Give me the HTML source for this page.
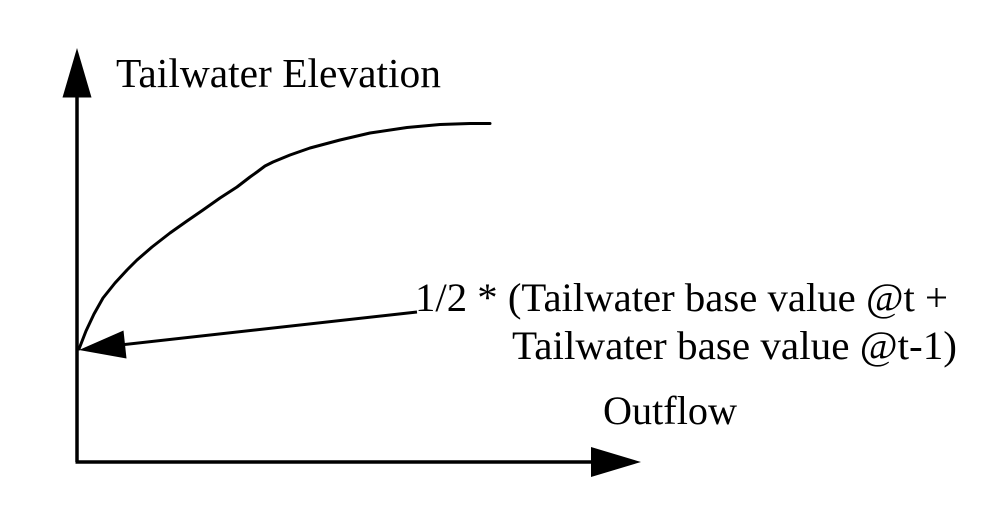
<!DOCTYPE html>
<html>
<head>
<meta charset="utf-8">
<style>
  html, body { margin: 0; padding: 0; background: #fff; }
  svg { display: block; }
  text { font-family: "Liberation Serif", "Times New Roman", serif; fill: #000; }
</style>
</head>
<body>
<svg width="998" height="520" viewBox="0 0 998 520" xmlns="http://www.w3.org/2000/svg">
  <!-- Y axis -->
  <line x1="77" y1="462" x2="77" y2="92" stroke="#000" stroke-width="3.5"/>
  <polygon points="77,48 62.5,97.5 91.5,97.5" fill="#000"/>
  <!-- X axis -->
  <line x1="75.5" y1="462" x2="596" y2="462" stroke="#000" stroke-width="3.5"/>
  <polygon points="641,462 591,447 591,477" fill="#000"/>

  <!-- Curve -->
  <polyline fill="none" stroke="#000" stroke-width="3" stroke-linejoin="round" stroke-linecap="round"
    points="79,349 86,331 94,314 103,298 115,283 127,270 137,260 152,247 170,233 187,221 203,210 220,198 237,187 250,177 257,172 265,166 273,162 290,155 310,148 340,140 370,133 407,127.5 440,124.5 470,123.5 490,123.5"/>

  <!-- Pointer arrow -->
  <line x1="417" y1="312" x2="120" y2="345" stroke="#000" stroke-width="3"/>
  <polygon points="79,350 123.5,330.5 126.5,358.5" fill="#000"/>

  <!-- Labels -->
  <text x="116" y="87" font-size="41" textLength="325" lengthAdjust="spacingAndGlyphs">Tailwater Elevation</text>
  <text x="415" y="311" font-size="40" textLength="533" lengthAdjust="spacingAndGlyphs">1/2 * (Tailwater base value @t +</text>
  <text x="512" y="359" font-size="40" textLength="445" lengthAdjust="spacingAndGlyphs">Tailwater base value @t-1)</text>
  <text x="603" y="424" font-size="40" textLength="134" lengthAdjust="spacingAndGlyphs">Outflow</text>
</svg>
</body>
</html>
